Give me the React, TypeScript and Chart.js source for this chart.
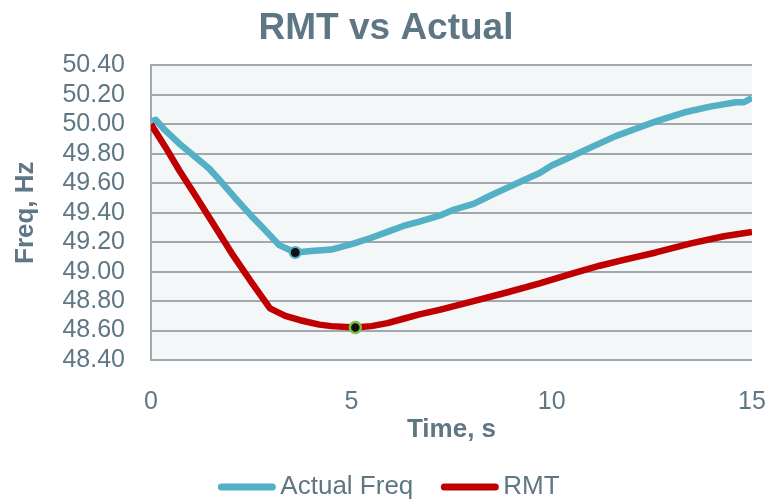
import React, { useEffect, useRef } from "react";
import { Chart, registerables } from "chart.js";

Chart.register(...registerables);

// ---------- data ----------
const TITLE = "RMT vs Actual";
const X_TITLE = "Time, s";
const Y_TITLE = "Freq, Hz";
const SERIES_NAMES = ["Actual Freq", "RMT"];

const actualTime = [0.02, 0.12, 0.35, 0.7, 1.1, 1.45, 1.75, 2.1, 2.5, 2.75, 3.2, 3.6, 4.0, 4.5, 5.05, 5.5, 5.9, 6.3, 6.7, 7.2, 7.55, 8.05, 8.5, 8.9, 9.3, 9.7, 10.0, 10.4, 10.95, 11.6, 12.1, 12.6, 13.3, 13.95, 14.6, 14.8, 15.0];
const actualFreq = [50.02, 50.03, 49.96, 49.87, 49.78, 49.70, 49.61, 49.50, 49.38, 49.31, 49.18, 49.13, 49.14, 49.15, 49.19, 49.23, 49.27, 49.31, 49.34, 49.38, 49.42, 49.46, 49.52, 49.57, 49.62, 49.67, 49.72, 49.77, 49.84, 49.92, 49.97, 50.02, 50.08, 50.12, 50.15, 50.15, 50.18];
const actualMarkerIndex = 11; // minimum of actual frequency

const rmtTime = [0, 0.35, 0.7, 1.1, 1.47, 2.05, 2.5, 2.97, 3.35, 3.72, 4.2, 4.5, 5.1, 5.5, 5.9, 6.3, 6.7, 7.2, 8.05, 8.9, 9.7, 10.55, 11.2, 11.8, 12.6, 13.45, 14.3, 15.0];
const rmtFreq = [50.0, 49.85, 49.69, 49.52, 49.36, 49.11, 48.93, 48.75, 48.7, 48.67, 48.64, 48.63, 48.62, 48.63, 48.65, 48.68, 48.71, 48.74, 48.8, 48.86, 48.92, 48.99, 49.04, 49.08, 49.13, 49.19, 49.24, 49.27];
const rmtMarkerIndex = 12; // minimum of RMT

const xTickValues = [0, 5, 10, 15];
const yTickValues = [48.4, 48.6, 48.8, 49.0, 49.2, 49.4, 49.6, 49.8, 50.0, 50.2, 50.4];

// ---------- styles ----------
const FONT = "'Liberation Sans', Arial, sans-serif";
const TEXT = "#5f7785";
const GRID = "#a2a9ae";
const PLOT_BG = "#f3f7f8";
const TEAL = "#54b0c4";
const RED = "#c00000";
const GREEN = "#7cc242";
const DOT = "#111111";

export default function App() {
  const canvasRef = useRef<HTMLCanvasElement>(null);

  useEffect(() => {
    if (!canvasRef.current) return;

    const plotBg = {
      id: "plotBg",
      beforeDraw(chart: any) {
        const { ctx, chartArea: a } = chart;
        ctx.save();
        ctx.fillStyle = PLOT_BG;
        ctx.fillRect(a.left, a.top, a.right - a.left, a.bottom - a.top);
        ctx.restore();
      },
    };

    // centre the title across the whole canvas
    const titleCentre = {
      id: "titleCentre",
      afterLayout(chart: any) {
        const t = chart.titleBlock;
        if (t) {
          t.left = 0;
          t.right = chart.width;
          t.width = chart.width;
        }
      },
    };

    const lineLegend = {
      id: "lineLegend",
      afterDraw(chart: any) {
        const ctx = chart.ctx;
        ctx.save();
        ctx.font = `26px ${FONT}`;
        const lineLen = 57;
        const gap = 5;
        const spacing = 28;
        const items = chart.data.datasets.map((d: any) => ({
          text: d.label,
          color: d.borderColor,
          w: ctx.measureText(d.label).width,
        }));
        const total =
          items.reduce((s: number, it: any) => s + lineLen + gap + it.w, 0) +
          spacing * (items.length - 1);
        let x = chart.width / 2 - total / 2 + 3;
        const y = 487;
        for (const it of items) {
          ctx.strokeStyle = it.color;
          ctx.lineWidth = 7;
          ctx.lineCap = "round";
          ctx.beginPath();
          ctx.moveTo(x + 3, y);
          ctx.lineTo(x + lineLen - 3, y);
          ctx.stroke();
          ctx.fillStyle = TEXT;
          ctx.textBaseline = "middle";
          ctx.textAlign = "left";
          ctx.fillText(it.text, x + lineLen + gap, y);
          x += lineLen + gap + it.w + spacing;
        }
        ctx.restore();
      },
    };

    const chart = new Chart(canvasRef.current, {
      type: "line",
      data: {
        datasets: [
          {
            label: SERIES_NAMES[0],
            data: actualTime.map((t, i) => ({ x: t, y: actualFreq[i] })),
            borderColor: TEAL,
            borderWidth: 6.5,
            borderJoinStyle: "round",
            tension: 0,
            order: 1,
            pointRadius: (c: any) => (c.dataIndex === actualMarkerIndex ? 5.5 : 0),
            pointHoverRadius: (c: any) => (c.dataIndex === actualMarkerIndex ? 5.5 : 0),
            pointBackgroundColor: DOT,
            pointBorderColor: TEAL,
            pointBorderWidth: 2,
          },
          {
            label: SERIES_NAMES[1],
            data: rmtTime.map((t, i) => ({ x: t, y: rmtFreq[i] })),
            borderColor: RED,
            borderWidth: 6.5,
            borderJoinStyle: "round",
            tension: 0,
            order: 0,
            pointRadius: (c: any) => (c.dataIndex === rmtMarkerIndex ? 5.5 : 0),
            pointHoverRadius: (c: any) => (c.dataIndex === rmtMarkerIndex ? 5.5 : 0),
            pointBackgroundColor: DOT,
            pointBorderColor: GREEN,
            pointBorderWidth: 2.5,
          },
        ],
      },
      options: {
        responsive: true,
        maintainAspectRatio: false,
        animation: false,
        events: [],
        layout: { padding: { left: 0, right: 20, top: 0, bottom: 57 } },
        plugins: {
          legend: { display: false },
          tooltip: { enabled: false },
          title: {
            display: true,
            text: TITLE,
            color: TEXT,
            font: { family: FONT, size: 37, weight: "bold" },
            padding: { top: 7, bottom: 14 },
          },
        },
        scales: {
          x: {
            type: "linear",
            min: 0,
            max: 15,
            afterBuildTicks: (s: any) => {
              s.ticks = xTickValues.map((v) => ({ value: v }));
            },
            afterFit: (s: any) => {
              s.height = 85;
              s.paddingLeft = 0;
              s.paddingRight = 0;
            },
            grid: { display: false },
            border: { display: false },
            ticks: {
              color: TEXT,
              font: { family: FONT, size: 25 },
              padding: 19,
              maxRotation: 0,
              autoSkip: false,
            },
            title: {
              display: true,
              text: X_TITLE,
              color: TEXT,
              font: { family: FONT, size: 26, weight: "bold" },
              padding: { top: 0, bottom: 0 },
            },
          },
          y: {
            type: "linear",
            min: 48.4,
            max: 50.4,
            afterBuildTicks: (s: any) => {
              s.ticks = yTickValues.map((v) => ({ value: v }));
            },
            afterFit: (s: any) => {
              s.width = 151;
            },
            grid: { color: GRID, lineWidth: 2, drawTicks: false },
            border: { display: true, color: GRID, width: 2 },
            ticks: {
              color: TEXT,
              font: { family: FONT, size: 25 },
              padding: 26,
              autoSkip: false,
              callback: (v: any) => Number(v).toFixed(2),
            },
            title: {
              display: true,
              text: Y_TITLE,
              color: TEXT,
              font: { family: FONT, size: 26, weight: "bold" },
              padding: { top: 10, bottom: 0 },
            },
          },
        },
      },
      plugins: [plotBg, titleCentre, lineLegend],
    } as any);

    return () => chart.destroy();
  }, []);

  return (
    <div style={{ position: "fixed", left: 0, top: 0, width: 772, height: 502 }}>
      <canvas ref={canvasRef} />
    </div>
  );
}
